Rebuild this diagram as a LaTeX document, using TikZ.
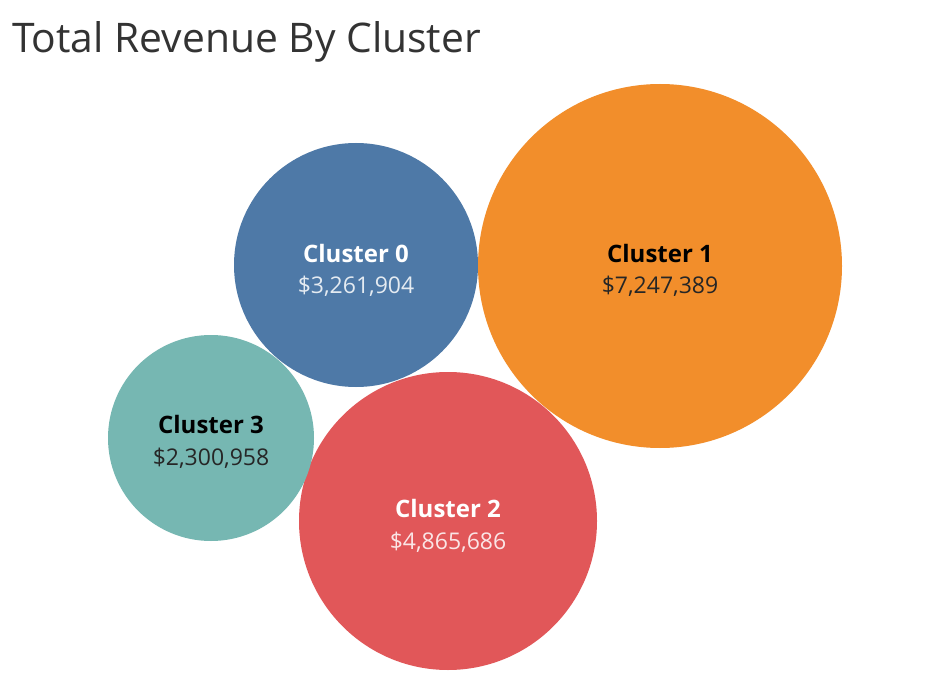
\documentclass[tikz,border=0pt]{standalone}
\usepackage{fontspec}
\setmainfont{Open Sans}
\usetikzlibrary{positioning}

\definecolor{clblue}{HTML}{4E79A7}
\definecolor{clorange}{HTML}{F28E2B}
\definecolor{clred}{HTML}{E15759}
\definecolor{clteal}{HTML}{76B7B2}
\definecolor{titlegrey}{HTML}{333333}

\tikzset{
	bubble/.style={shape=circle, draw=none, inner sep=0pt},
	clname/.style={anchor=base, font=\bfseries\fontsize{24}{25}\selectfont},
	clvalue/.style={anchor=base, font=\fontsize{23}{24}\selectfont},
}

\begin{document}
\begin{tikzpicture}[x=1pt, y=-1pt]
	\useasboundingbox[fill=white] (0,0) rectangle (948,687);

	\node[anchor=base west, text=titlegrey, font=\fontsize{40.8}{42}\selectfont, inner sep=0pt] (title) at (12,53) {Total Revenue By Cluster};

	\node[bubble, fill=clblue, minimum size=244pt] (c_0) at (356,265) {};
	\node[bubble, fill=clorange, minimum size=364pt] (c_1) at (660,266) {};
	\node[bubble, fill=clred, minimum size=298pt] (c_2) at (448,521) {};
	\node[bubble, fill=clteal, minimum size=206pt] (c_3) at (211,438) {};

	\node[clname, text=white] (n_0) at (356,262) {Cluster 0};
	\node[clvalue, text=white, text opacity=0.85] (v_0) at (356,294) {\$3,261,904};

	\node[clname, text=black] (n_1) at (660,262) {Cluster 1};
	\node[clvalue, text=black!85] (v_1) at (660,294) {\$7,247,389};

	\node[clname, text=white] (n_2) at (448,517) {Cluster 2};
	\node[clvalue, text=white, text opacity=0.85] (v_2) at (448,549) {\$4,865,686};

	\node[clname, text=black] (n_3) at (211,433) {Cluster 3};
	\node[clvalue, text=black!85] (v_3) at (211,465) {\$2,300,958};
\end{tikzpicture}
\end{document}
